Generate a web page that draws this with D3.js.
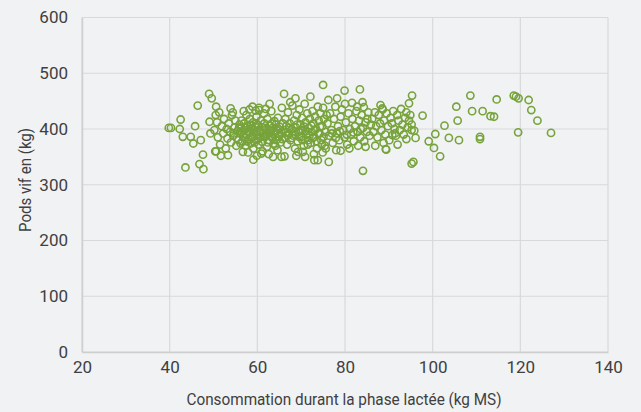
<!DOCTYPE html>
<html lang="fr">
<head>
<meta charset="utf-8">
<script src="https://cdn.jsdelivr.net/npm/d3@7"></script>
<style>
  html, body { margin: 0; padding: 0; background: #f1f2f4; }
  svg { display: block; font-family: Roboto, 'Open Sans', sans-serif; }
</style>
</head>
<body>
<svg class="chart" width="641" height="412"></svg>
<script>
// ticks des axes
const xTicks = [20, 40, 60, 80, 100, 120, 140]
const yTicks = [0, 100, 200, 300, 400, 500, 600]

// points isolés à gauche du nuage [consommation, poids]
const groupeGauche = [
  [39.8, 402], [40.3, 402], [42.5, 417], [42.3, 400], [43.0, 386], [43.6, 331],
  [44.8, 386], [45.4, 374], [45.8, 405], [46.4, 442], [47.1, 380], [46.8, 337],
  [47.7, 328], [47.6, 354], [49.0, 463], [49.6, 455], [50.6, 440], [50.5, 425],
  [49.1, 413], [49.3, 392], [50.4, 360], [53.3, 353], [54.4, 430]
]

// cœur du nuage
const groupeCentre = [
  [50.2, 398], [50.8, 412], [51.0, 385], [51.3, 430], [51.5, 372], [51.9, 405], [52.2, 392],
  [52.4, 418], [52.8, 365], [53.0, 400], [53.2, 383], [53.5, 410], [53.8, 395], [54.0, 376],
  [54.2, 425], [54.5, 388], [54.8, 403], [55.0, 415], [55.2, 370], [55.5, 396], [55.7, 380],
  [55.9, 408], [50.6, 360], [51.7, 352], [53.9, 437],
  [56.1, 392], [56.3, 402], [56.4, 415], [56.6, 378], [56.8, 386], [57.0, 410], [57.1, 398],
  [57.3, 370], [57.5, 425], [57.6, 390], [57.8, 405], [58.0, 382], [58.1, 396], [58.3, 418],
  [58.5, 374], [58.6, 400], [58.8, 388], [59.0, 412], [59.1, 365], [59.3, 394], [59.5, 404],
  [59.6, 380], [59.8, 422], [60.0, 390], [60.1, 408], [60.3, 372], [60.5, 398], [60.6, 385],
  [60.8, 415], [61.0, 403], [61.1, 377], [61.3, 393], [61.5, 428], [61.6, 410], [61.8, 386],
  [62.0, 400], [62.2, 368], [62.3, 418], [62.5, 392], [62.7, 380], [62.9, 406], [63.0, 396],
  [63.2, 432], [63.4, 384], [63.5, 402], [63.7, 374], [63.9, 414], [64.0, 390], [64.2, 408],
  [64.4, 398], [64.6, 362], [64.7, 420], [64.9, 386], [65.1, 404], [65.3, 376], [65.4, 394],
  [65.6, 438], [65.8, 410], [56.9, 432], [58.9, 440], [60.4, 438], [61.9, 436], [57.9, 358],
  [59.9, 352], [62.6, 355], [64.1, 370], [61.2, 360], [56.7, 359], [59.1, 345], [60.9, 356],
  [63.6, 350], [65.5, 350], [66.2, 351], [58.2, 435], [59.6, 433], [60.4, 434], [62.8, 445],
  [66.1, 463], [68.7, 455], [72.1, 458], [69.3, 359], [70.4, 359], [73.0, 344],
  [54.6, 392], [55.3, 384], [55.8, 401], [56.2, 374], [56.5, 395], [57.2, 385], [57.4, 402],
  [57.7, 378], [58.2, 392], [58.4, 408], [58.7, 384], [59.2, 398], [59.4, 376], [59.7, 410],
  [60.2, 382], [60.7, 394], [61.4, 386], [61.7, 402], [62.1, 390], [62.4, 376], [62.8, 398],
  [63.1, 388], [63.3, 410], [63.8, 394], [64.3, 380], [64.8, 400], [65.2, 390], [65.7, 382],
  [66.5, 394], [66.9, 388], [67.3, 402], [67.9, 384], [68.3, 396], [68.7, 390], [69.1, 408],
  [69.5, 386], [69.9, 398], [70.3, 380], [70.7, 404], [71.1, 396], [71.5, 372], [71.9, 388],
  [72.3, 406], [72.7, 384], [73.1, 398], [73.5, 378], [73.9, 392], [74.3, 404], [74.7, 372],
  [75.1, 386],
  [66.0, 398], [66.2, 384], [66.4, 418], [66.6, 405], [66.8, 372], [67.0, 430], [67.2, 392],
  [67.4, 410], [67.6, 380], [67.8, 400], [68.0, 442], [68.2, 388], [68.4, 415], [68.6, 365],
  [68.8, 403], [69.0, 425], [69.2, 378], [69.4, 395], [69.6, 435], [69.8, 408], [70.0, 386],
  [70.2, 420], [70.4, 398], [70.6, 370], [70.8, 445], [71.0, 412], [71.2, 390], [71.4, 428],
  [71.6, 380], [71.8, 402], [72.0, 418], [72.2, 375], [72.4, 395], [72.6, 432], [72.8, 410],
  [73.0, 386], [73.2, 422], [73.4, 400], [73.6, 365], [73.8, 440], [74.0, 415], [74.2, 392],
  [74.4, 428], [74.6, 380], [74.8, 405], [75.0, 438], [75.2, 418], [75.4, 370], [75.6, 395],
  [75.8, 425], [67.5, 448], [70.9, 350], [72.9, 355], [68.9, 352], [74.9, 358],
  [75.0, 479], [79.9, 469], [83.4, 471], [84.1, 325], [73.8, 344], [76.3, 341], [79.0, 361],
  [75.6, 365], [89.4, 363], [84.7, 368], [76.2, 452], [78.2, 455], [81.6, 447], [82.8, 440],
  [84.3, 439], [88.1, 443], [88.5, 437],
  [76.0, 410], [76.3, 388], [76.6, 428], [76.9, 398], [77.2, 375], [77.5, 418], [77.8, 440],
  [78.1, 392], [78.4, 405], [78.7, 380], [79.0, 422], [79.3, 435], [79.6, 398], [79.9, 385],
  [80.2, 412], [80.5, 372], [80.8, 428], [81.1, 400], [81.4, 390], [81.7, 418], [82.0, 378],
  [82.3, 405], [82.6, 432], [82.9, 395], [83.2, 415], [83.5, 385], [83.8, 425], [84.1, 402],
  [84.4, 378], [84.7, 412], [85.0, 395], [85.3, 430], [85.6, 388], [85.9, 408], [78.0, 362],
  [81.0, 365], [83.0, 370], [80.0, 445], [84.0, 448],
  [77.0, 392], [77.9, 384], [78.8, 396], [80.4, 390], [81.9, 394], [83.6, 400], [85.1, 418],
  [86.2, 418], [86.5, 395], [86.8, 430], [87.1, 405], [87.4, 385], [87.7, 425], [88.0, 410],
  [88.3, 398], [88.6, 435], [88.9, 415], [89.2, 390], [89.5, 428], [89.8, 405], [90.1, 380],
  [90.4, 420], [90.7, 410], [91.0, 432], [91.3, 400], [91.6, 388], [91.9, 425], [92.2, 415],
  [92.5, 398], [92.8, 436], [93.1, 408], [93.4, 390], [93.7, 420], [94.0, 430], [94.3, 403],
  [94.6, 415], [94.9, 425], [95.2, 408], [86.9, 370], [88.8, 375], [92.0, 372], [94.0, 382],
  [89.3, 364], [90.8, 389], [91.4, 392], [94.6, 446], [95.3, 460], [96.1, 384], [95.2, 398],
  [95.8, 397]
]

// points isolés à droite
const groupeDroite = [
  [95.2, 338], [95.6, 341], [97.7, 424], [100.6, 391], [99.1, 378], [100.3, 366],
  [101.7, 351], [102.7, 406], [103.7, 384], [105.4, 440], [105.7, 415], [106.0, 380],
  [108.6, 460], [109.0, 432], [111.4, 432], [113.2, 423], [114.0, 422], [114.6, 453],
  [118.5, 460], [119.0, 458], [119.6, 455], [121.9, 452], [122.5, 434], [123.9, 415],
  [119.5, 394], [127.0, 393], [110.8, 386], [110.8, 382]
]

const width = 641
const height = 412
const margin = { top: 17.5, right: 33, bottom: 60, left: 82 }

const svg = d3.select('.chart')

const x = d3.scaleLinear()
  .domain([20, 140])
  .range([margin.left, width - margin.right])

const y = d3.scaleLinear()
  .domain([0, 600])
  .range([height - margin.bottom, margin.top])

// grille verticale
svg.append('g')
  .selectAll('line')
  .data(xTicks)
  .enter()
  .append('line')
  .attr('x1', d => x(d))
  .attr('x2', d => x(d))
  .attr('y1', y(0))
  .attr('y2', y(600))
  .attr('stroke', '#d9d9d9')
  .attr('stroke-width', 1.2)

// grille horizontale
svg.append('g')
  .selectAll('line')
  .data(yTicks)
  .enter()
  .append('line')
  .attr('x1', x(20))
  .attr('x2', x(140))
  .attr('y1', d => y(d))
  .attr('y2', d => y(d))
  .attr('stroke', '#d9d9d9')
  .attr('stroke-width', 1.2)

// axe x
const xAxis = svg.append('g')
  .attr('transform', `translate(0,${y(0)})`)
  .call(d3.axisBottom(x).tickValues(xTicks).tickSize(0).tickPadding(9))
xAxis.select('.domain').attr('stroke', '#cfcfcf').attr('stroke-width', 1.5)
xAxis.selectAll('text')
  .attr('font-size', 17)
  .attr('fill', '#404040')
  .attr('font-family', 'Roboto, sans-serif')

// axe y
const yAxis = svg.append('g')
  .attr('transform', `translate(${x(20)},0)`)
  .call(d3.axisLeft(y).tickValues(yTicks).tickSize(0).tickPadding(14))
yAxis.select('.domain').attr('stroke', '#cfcfcf').attr('stroke-width', 1.5)
yAxis.selectAll('text')
  .attr('font-size', 17)
  .attr('fill', '#404040')
  .attr('font-family', 'Roboto, sans-serif')

// titres des axes
svg.append('text')
  .attr('x', 344)
  .attr('y', 405)
  .attr('text-anchor', 'middle')
  .attr('font-size', 16)
  .attr('fill', '#404040')
  .attr('textLength', 315)
  .attr('lengthAdjust', 'spacingAndGlyphs')
  .text('Consommation durant la phase lactée (kg MS)')

svg.append('text')
  .attr('transform', 'translate(31,180) rotate(-90)')
  .attr('text-anchor', 'middle')
  .attr('font-size', 16)
  .attr('fill', '#404040')
  .attr('textLength', 104)
  .attr('lengthAdjust', 'spacingAndGlyphs')
  .text('Pods vif en (kg)')

// nuage de points
const points = groupeGauche.concat(groupeCentre, groupeDroite)
svg.append('g')
  .selectAll('circle')
  .data(points)
  .enter()
  .append('circle')
  .attr('cx', d => x(d[0]))
  .attr('cy', d => y(d[1]))
  .attr('r', 3.6)
  .attr('fill', 'none')
  .attr('stroke', '#77a33b')
  .attr('stroke-width', 1.6)
</script>
</body>
</html>
